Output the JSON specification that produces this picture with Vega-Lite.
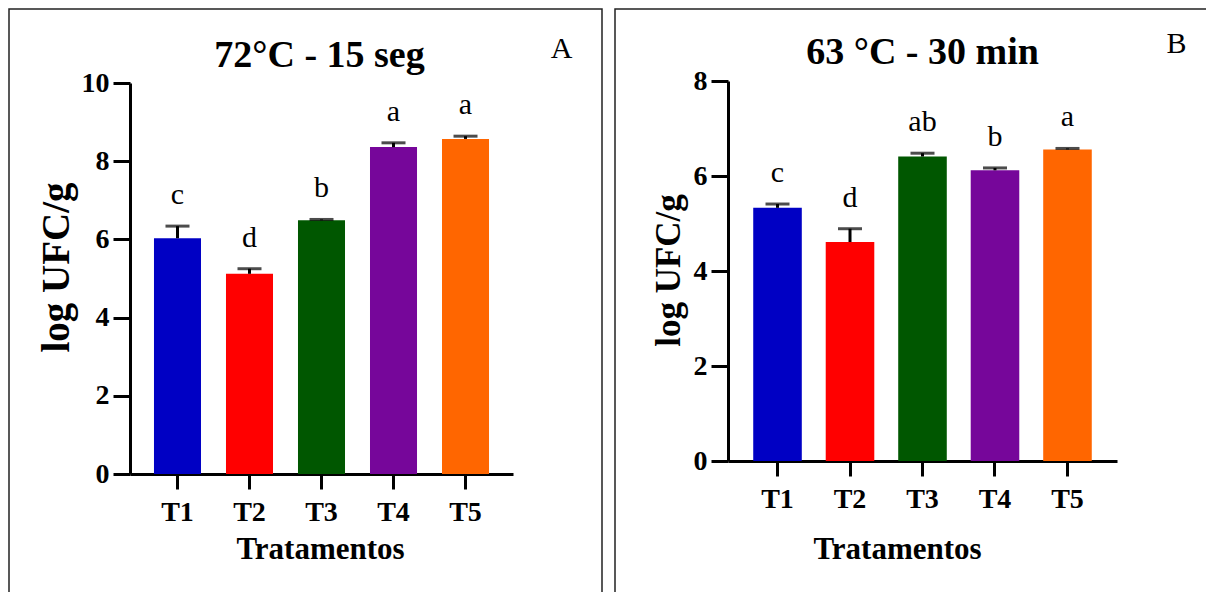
{
  "$schema": "https://vega.github.io/schema/vega-lite/v6.json",
  "padding": {"left": 8, "top": 8, "right": 0, "bottom": 0},
  "spacing": 11,
  "config": {
    "font": "Liberation Serif",
    "axis": {"grid": false, "domainColor": "black", "tickColor": "black", "labelColor": "black", "titleColor": "black"}
  },
  "hconcat": [
    {
      "width": 593,
      "height": 583,
      "view": {"stroke": "#222222", "strokeWidth": 1.5, "strokeDash": [1176, 593, 600, 0]},
      "title": {"text": "72°C - 15 seg", "font": "Liberation Serif", "fontSize": 38, "fontWeight": "bold", "color": "black", "anchor": "middle", "frame": "group", "baseline": "alphabetic", "offset": -96, "dx": 14},
      "data": {"values": [
        {"trat": "T1", "media": 6.03, "superior": 6.34, "letra": "c"},
        {"trat": "T2", "media": 5.12, "superior": 5.25, "letra": "d"},
        {"trat": "T3", "media": 6.49, "superior": 6.51, "letra": "b"},
        {"trat": "T4", "media": 8.36, "superior": 8.47, "letra": "a"},
        {"trat": "T5", "media": 8.57, "superior": 8.64, "letra": "a"}
      ]},
      "layer": [
        {
          "mark": {"type": "bar"},
          "encoding": {
            "x": {"field": "trat", "type": "nominal", "sort": null,
              "scale": {"range": [121, 504], "paddingInner": 0.347, "paddingOuter": 0.333},
              "axis": {"orient": "bottom", "offset": -118, "labelAngle": 0, "domainWidth": 3, "tickWidth": 3, "tickSize": 15, "labelFontSize": 28, "labelFontWeight": "bold", "labelPadding": 9, "title": "Tratamentos", "titleFontSize": 31, "titleFontWeight": "bold", "titleX": 311, "titleY": 75, "titleBaseline": "middle", "titleAlign": "center"}},
            "y": {"field": "media", "type": "quantitative",
              "scale": {"domain": [0, 10], "range": [465, 74], "nice": false, "zero": true},
              "axis": {"orient": "left", "offset": -121, "values": [0, 2, 4, 6, 8, 10], "domainWidth": 3, "tickWidth": 3, "tickSize": 17, "labelFontSize": 28, "labelFontWeight": "bold", "labelPadding": 4, "title": "log UFC/g", "titleFontSize": 39, "titleFontWeight": "bold", "titleAngle": 270, "titleX": -74, "titleY": 258, "titleBaseline": "middle", "titleAlign": "center"}},
            "color": {"field": "trat", "type": "nominal", "legend": null,
              "scale": {"domain": ["T1", "T2", "T3", "T4", "T5"], "range": ["#0000C4", "#FF0000", "#005700", "#76069A", "#FF6600"]}}
          }
        },
        {
          "mark": {"type": "rule", "color": "black", "strokeWidth": 3},
          "encoding": {
            "x": {"field": "trat", "type": "nominal", "sort": null},
            "y": {"field": "media", "type": "quantitative", "axis": null},
            "y2": {"field": "superior"}
          }
        },
        {
          "mark": {"type": "tick", "color": "black", "thickness": 3, "size": 24},
          "encoding": {
            "x": {"field": "trat", "type": "nominal", "sort": null},
            "y": {"field": "superior", "type": "quantitative", "axis": null}
          }
        },
        {
          "mark": {"type": "text", "font": "Liberation Serif", "fontSize": 30, "color": "black", "baseline": "alphabetic", "dy": -22},
          "encoding": {
            "x": {"field": "trat", "type": "nominal", "sort": null},
            "y": {"field": "superior", "type": "quantitative",
              "axis": {"orient": "right", "labels": false, "ticks": false, "domain": false, "title": "A", "titleFontSize": 30, "titleFontWeight": "normal", "titleAngle": 0, "titleX": -41, "titleY": 39, "titleBaseline": "middle", "titleAlign": "center"}},
            "text": {"field": "letra"}
          }
        }
      ]
    },
    {
      "width": 591,
      "height": 583,
      "view": {"stroke": "#222222", "strokeWidth": 1.5, "strokeDash": [591, 1174, 600, 0]},
      "title": {"text": "63 °C - 30 min", "font": "Liberation Serif", "fontSize": 38, "fontWeight": "bold", "color": "black", "anchor": "middle", "frame": "group", "baseline": "alphabetic", "offset": -93, "dx": 12},
      "data": {"values": [
        {"trat": "T1", "media": 5.33, "superior": 5.41, "letra": "c"},
        {"trat": "T2", "media": 4.61, "superior": 4.89, "letra": "d"},
        {"trat": "T3", "media": 6.41, "superior": 6.48, "letra": "ab"},
        {"trat": "T4", "media": 6.12, "superior": 6.17, "letra": "b"},
        {"trat": "T5", "media": 6.56, "superior": 6.58, "letra": "a"}
      ]},
      "layer": [
        {
          "mark": {"type": "bar"},
          "encoding": {
            "x": {"field": "trat", "type": "nominal", "sort": null,
              "scale": {"range": [113, 502], "paddingInner": 0.33, "paddingOuter": 0.348},
              "axis": {"orient": "bottom", "offset": -131, "labelAngle": 0, "domainWidth": 3, "tickWidth": 3, "tickSize": 15, "labelFontSize": 28, "labelFontWeight": "bold", "labelPadding": 9, "title": "Tratamentos", "titleFontSize": 31, "titleFontWeight": "bold", "titleX": 282, "titleY": 88, "titleBaseline": "middle", "titleAlign": "center"}},
            "y": {"field": "media", "type": "quantitative",
              "scale": {"domain": [0, 8], "range": [452, 72], "nice": false, "zero": true},
              "axis": {"orient": "left", "offset": -113, "values": [0, 2, 4, 6, 8], "domainWidth": 3, "tickWidth": 3, "tickSize": 17, "labelFontSize": 28, "labelFontWeight": "bold", "labelPadding": 4, "title": "log UFC/g", "titleFontSize": 35, "titleFontWeight": "bold", "titleAngle": 270, "titleX": -60, "titleY": 261, "titleBaseline": "middle", "titleAlign": "center"}},
            "color": {"field": "trat", "type": "nominal", "legend": null,
              "scale": {"domain": ["T1", "T2", "T3", "T4", "T5"], "range": ["#0000C4", "#FF0000", "#005700", "#76069A", "#FF6600"]}}
          }
        },
        {
          "mark": {"type": "rule", "color": "black", "strokeWidth": 3},
          "encoding": {
            "x": {"field": "trat", "type": "nominal", "sort": null},
            "y": {"field": "media", "type": "quantitative", "axis": null},
            "y2": {"field": "superior"}
          }
        },
        {
          "mark": {"type": "tick", "color": "black", "thickness": 3, "size": 24},
          "encoding": {
            "x": {"field": "trat", "type": "nominal", "sort": null},
            "y": {"field": "superior", "type": "quantitative", "axis": null}
          }
        },
        {
          "mark": {"type": "text", "font": "Liberation Serif", "fontSize": 30, "color": "black", "baseline": "alphabetic", "dy": -22},
          "encoding": {
            "x": {"field": "trat", "type": "nominal", "sort": null},
            "y": {"field": "superior", "type": "quantitative",
              "axis": {"orient": "right", "labels": false, "ticks": false, "domain": false, "title": "B", "titleFontSize": 30, "titleFontWeight": "normal", "titleAngle": 0, "titleX": -30, "titleY": 34, "titleBaseline": "middle", "titleAlign": "center"}},
            "text": {"field": "letra"}
          }
        }
      ]
    }
  ]
}
